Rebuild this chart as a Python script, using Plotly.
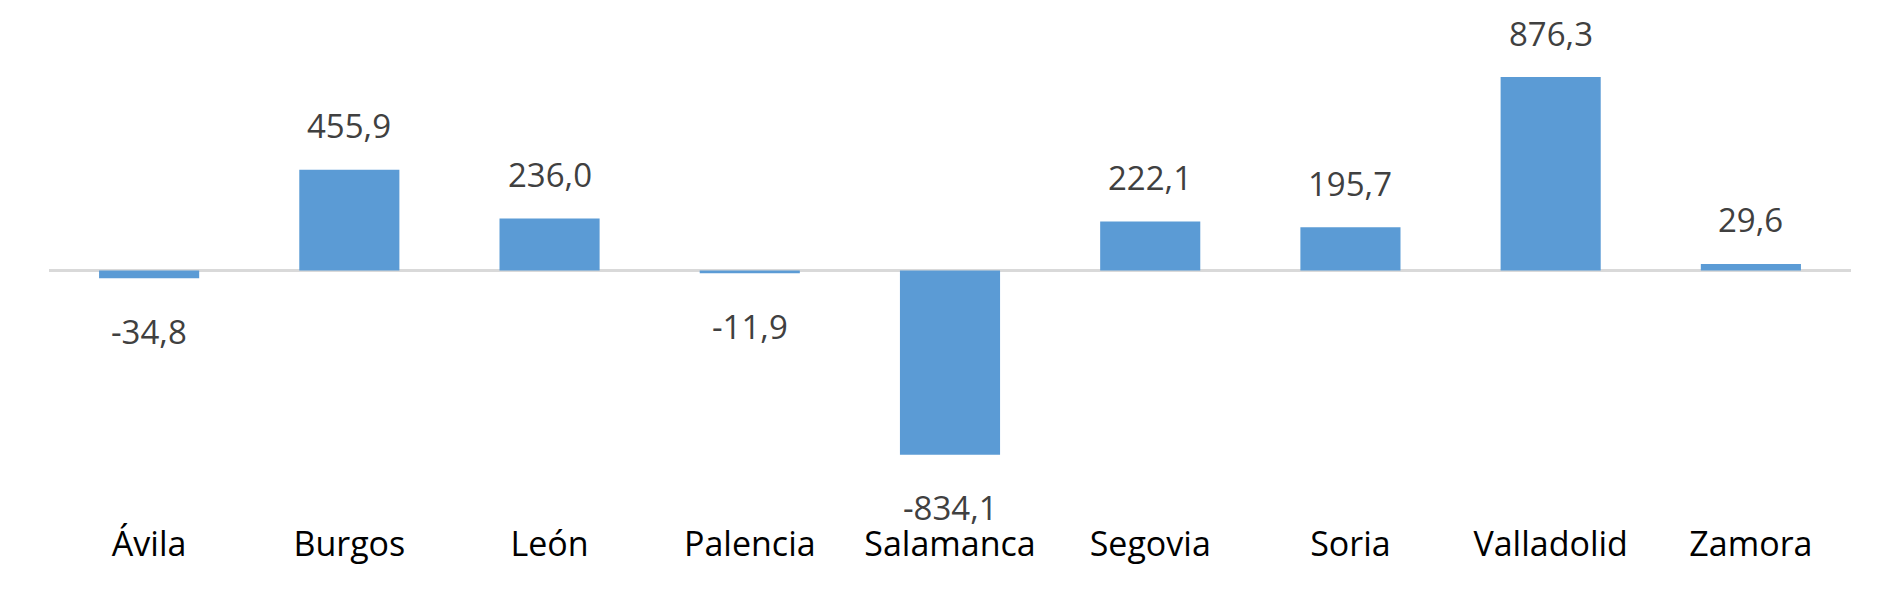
import plotly.graph_objects as go

categories = ["Ávila", "Burgos", "León", "Palencia", "Salamanca", "Segovia", "Soria", "Valladolid", "Zamora"]
values = [-34.8, 455.9, 236.0, -11.9, -834.1, 222.1, 195.7, 876.3, 29.6]
labels = [f"{v:.1f}".replace(".", ",") for v in values]

BAR_COLOR = "#5B9BD5"
FONT = "Open Sans"

fig = go.Figure()
fig.add_trace(go.Bar(
    x=categories, y=values,
    marker=dict(color=BAR_COLOR, line=dict(width=0)),
    hoverinfo="skip",
))

for c, v, t in zip(categories, values, labels):
    fig.add_annotation(
        x=c, y=v, text=t, showarrow=False,
        xanchor="center", yanchor="middle",
        yshift=44 if v >= 0 else -53,
        font=dict(family=FONT, size=33, color="#404040"),
    )

# page body has an 8px default margin; the figure is sized to fill the rest
fig.update_layout(
    width=1892, height=588,
    margin=dict(l=41, r=49, t=2, b=81),
    paper_bgcolor="white", plot_bgcolor="white",
    bargap=0.5,
    showlegend=False,
    font=dict(family=FONT, size=34, color="#000000"),
)
fig.update_xaxes(
    showline=False, showgrid=False, ticks="",
    tickfont=dict(family=FONT, size=34, color="#000000"),
    ticklabelstandoff=6,
    fixedrange=True,
)
fig.update_yaxes(
    range=[-1107.3, 1179.8],
    showgrid=False, showticklabels=False, ticks="",
    zeroline=True, zerolinecolor="#D9D9D9", zerolinewidth=2.5,
    fixedrange=True,
)

fig.write_html("out.html", config={"displayModeBar": False})
